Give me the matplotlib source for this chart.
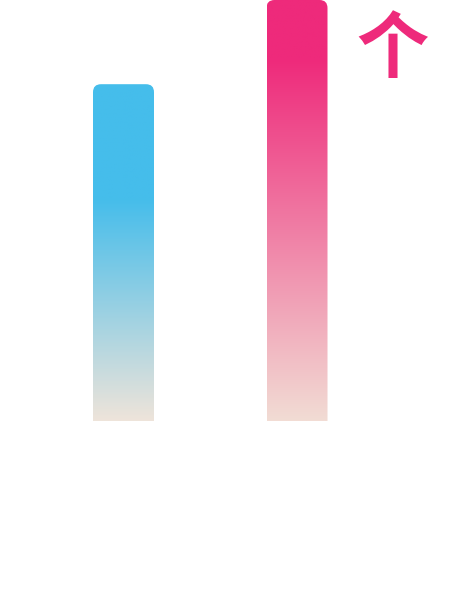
import numpy as np
import matplotlib
matplotlib.use("Agg")
import matplotlib.pyplot as plt
from matplotlib.colors import LinearSegmentedColormap
from matplotlib.patches import FancyBboxPatch

# data
categories = ["A", "B"]
values = [80, 100]
bottom_colors = ["#EEE4DA", "#F2DCD4"]
top_colors = ["#45BDEB", "#EE2A7B"]
solid_from = [0.66, 0.86]   # fraction of bar height where the colour goes solid
marker_text = "个"

fig = plt.figure(figsize=(4.54, 6.0), dpi=100)
ax = fig.add_axes([0, 1 - 421 / 600, 1, 421 / 600])

x = np.arange(len(categories))
px = 173.5  # pixels per category step
ax.set_xlim(-123.5 / px, (454 - 123.5) / px)
ax.set_ylim(0, 100)
ax.axis("off")

width = 61 / px
aspect = (100 / 421) / (1 / px)
rad = 8 / px

grad = np.linspace(0, 1, 256).reshape(-1, 1)
for i in range(len(categories)):
    cmap = LinearSegmentedColormap.from_list(
        "g%d" % i,
        [(0, bottom_colors[i]), (solid_from[i], top_colors[i]), (1, top_colors[i])])
    left = x[i] - width / 2
    # extend below zero so only the top corners look rounded
    patch = FancyBboxPatch((left, -10), width, values[i] + 10,
                           boxstyle="round,pad=0,rounding_size=%f" % rad,
                           mutation_aspect=aspect, facecolor="none",
                           edgecolor="none", transform=ax.transData)
    ax.add_patch(patch)
    im = ax.imshow(grad, cmap=cmap, origin="lower", aspect="auto",
                   extent=[left, left + width, 0, values[i]],
                   interpolation="bilinear")
    im.set_clip_path(patch)

ax.set_xlim(-123.5 / px, (454 - 123.5) / px)
ax.set_ylim(0, 100)

fig.text(392 / 454, 1 - 51 / 600, marker_text, color="#EE2A7B", fontsize=52,
         fontweight="bold", family=["Noto Sans CJK SC", "DejaVu Sans"],
         ha="center", va="center")

fig.savefig("out.png", dpi=100)
